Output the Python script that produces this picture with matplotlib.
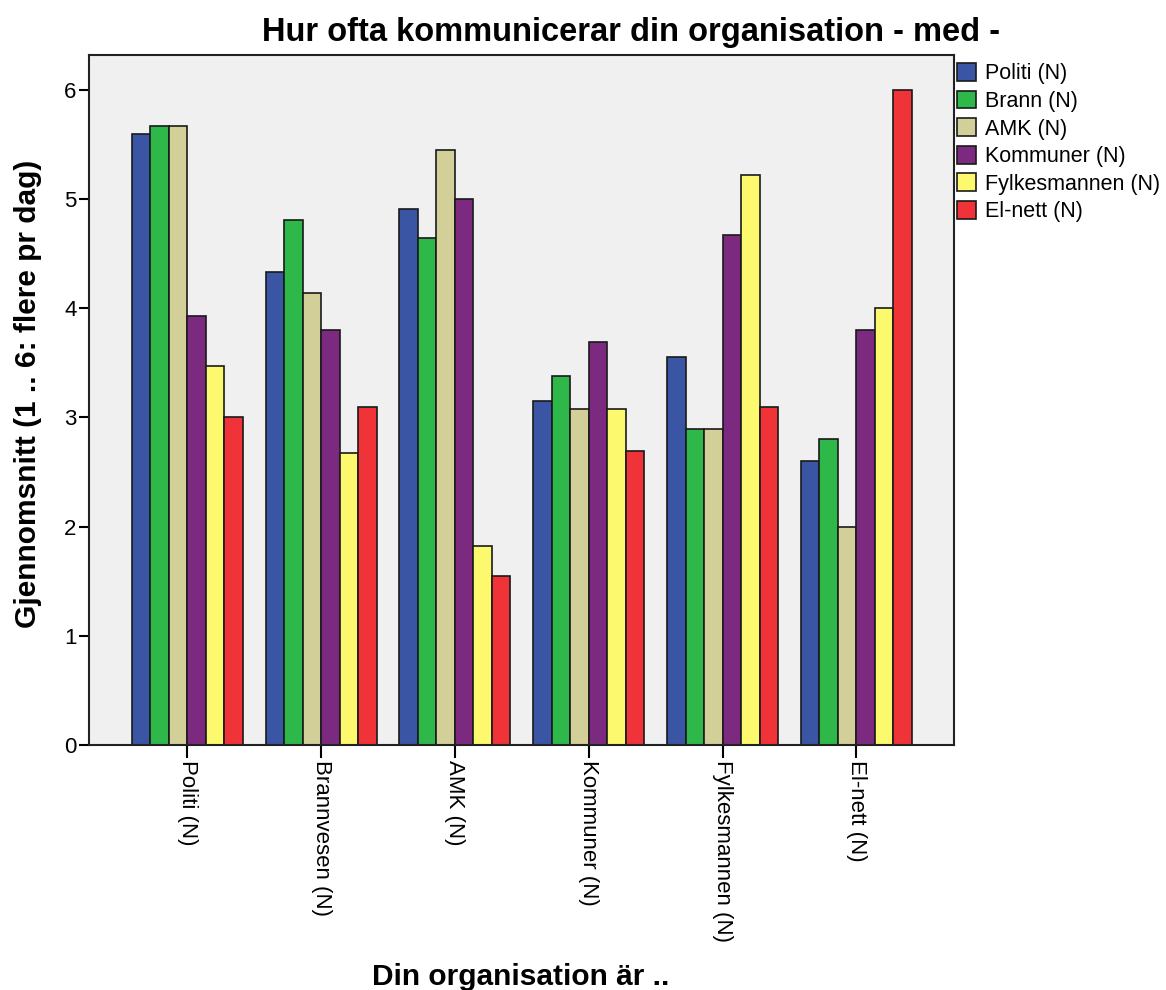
import numpy as np
import matplotlib
matplotlib.use("Agg")
import matplotlib.pyplot as plt

plt.rcParams['font.family'] = ['Liberation Sans', 'DejaVu Sans']

groups = ['Politi (N)', 'Brannvesen (N)', 'AMK (N)', 'Kommuner (N)',
          'Fylkesmannen (N)', 'El-nett (N)']
series = ['Politi (N)', 'Brann (N)', 'AMK (N)', 'Kommuner (N)',
          'Fylkesmannen (N)', 'El-nett (N)']

politi = [5.60, 4.33, 4.91, 3.15, 3.55, 2.60]
brann = [5.67, 4.81, 4.64, 3.38, 2.89, 2.80]
amk = [5.67, 4.14, 5.45, 3.08, 2.89, 2.00]
kommuner = [3.93, 3.80, 5.00, 3.69, 4.67, 3.80]
fylkesmannen = [3.47, 2.67, 1.82, 3.08, 5.22, 4.00]
elnett = [3.00, 3.10, 1.55, 2.69, 3.10, 6.00]

colors = ['#3b55a5', '#2fb84a', '#d3cf98', '#7b2a80', '#fdf96e', '#ef3339']

values = [politi, brann, amk, kommuner, fylkesmannen, elnett]

W, H = 1166, 990
fig = plt.figure(figsize=(W / 100, H / 100), dpi=100)
# plot area in pixels: x 89..954, y 55..745
ax = fig.add_axes([89 / W, 1 - 745 / H, (954 - 89) / W, (745 - 55) / H])
ax.set_facecolor('#f0f0f0')

x = np.arange(len(groups))
width = 0.83 / len(series)
for i, (name, vals) in enumerate(zip(series, values)):
    offset = (i - (len(series) - 1) / 2) * width
    ax.bar(x + offset, vals, width, color=colors[i], edgecolor='#1a1a1a',
           linewidth=1.2, label=name, zorder=2)

ax.set_xlim(-0.735, 5.73)
ax.set_ylim(0, 6.32)
ax.set_yticks([0, 1, 2, 3, 4, 5, 6])
ax.set_xticks(x)
ax.set_xticklabels(groups, rotation=-90, fontsize=16)
ax.tick_params(axis='y', labelsize=16, length=7, width=1.5, pad=2)
ax.tick_params(axis='x', length=9.5, width=1.5, pad=1)
for s in ax.spines.values():
    s.set_linewidth(1.5)
    s.set_color('#222222')

fig.text(631 / W, 1 - 41 / H, 'Hur ofta kommunicerar din organisation - med -',
         fontsize=23.5, fontweight='bold', ha='center', va='baseline')
ax.set_ylabel('Gjennomsnitt (1 .. 6: flere pr dag)', fontsize=21.5,
              fontweight='bold')
ax.yaxis.set_label_coords(-0.0543, 0.509)
fig.text(521 / W, 1 - 985 / H, 'Din organisation är ..', fontsize=21.5,
         fontweight='bold', ha='center', va='baseline')

leg = ax.legend(loc='upper left', bbox_to_anchor=(957 / W, 1 - 63 / H),
                bbox_transform=fig.transFigure, fontsize=15.5,
                frameon=False, handlelength=0.9, handleheight=0.9,
                handletextpad=0.38, labelspacing=0.29, borderaxespad=0,
                borderpad=0)

fig.savefig('out.png', dpi=100, facecolor='white')
